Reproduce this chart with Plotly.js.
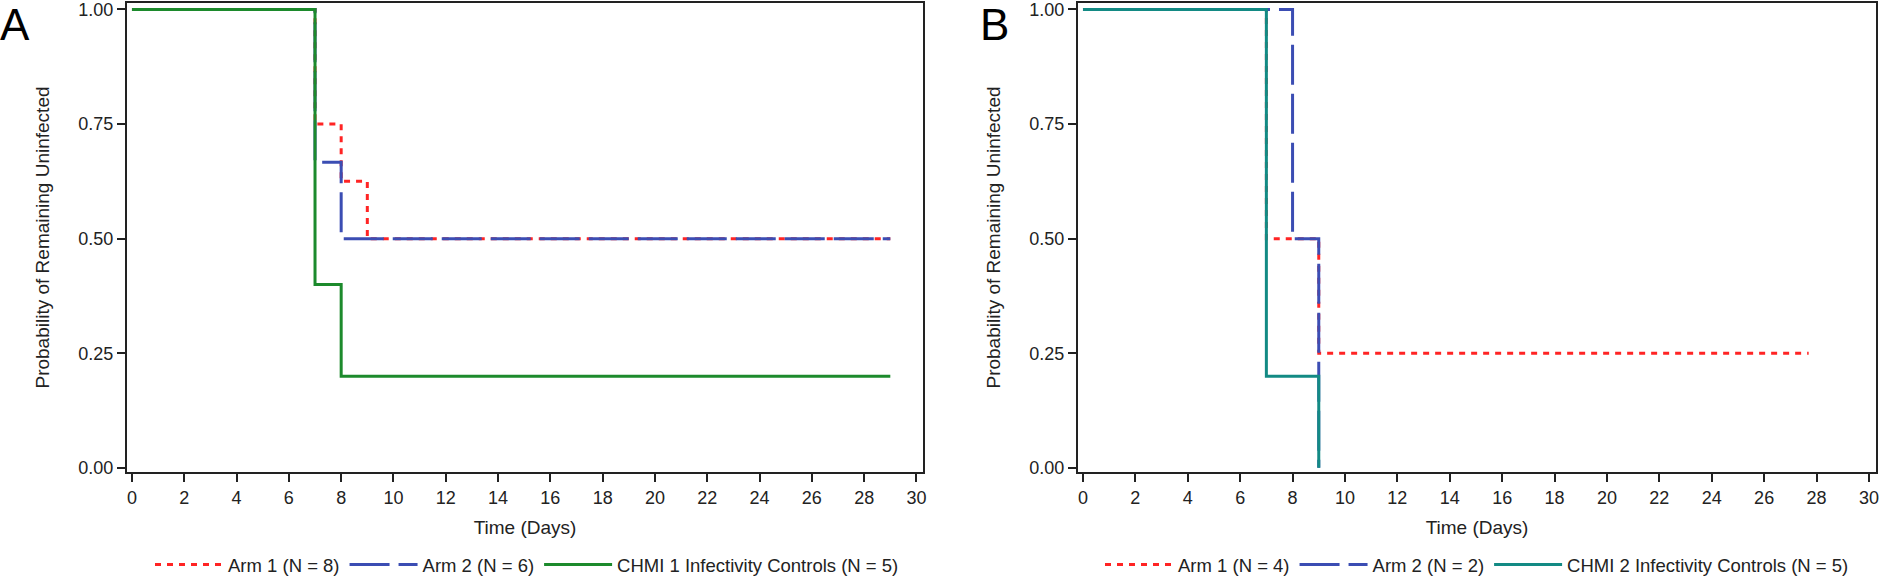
<!DOCTYPE html>
<html>
<head>
<meta charset="utf-8">
<script src="https://cdn.plot.ly/plotly-3.0.1.min.js"></script>
<style>html,body{margin:0;padding:0;background:#fff;}#chart{width:1880px;height:577px;}</style>
</head>
<body>
<div id="chart"></div>
<script>
// Panel A data (Kaplan-Meier step points)
const a_arm1_t = [0, 7, 8, 9, 29];
const a_arm1_s = [1, 0.75, 0.625, 0.5, 0.5];
const a_arm2_t = [0, 7, 8, 29];
const a_arm2_s = [1, 0.6667, 0.5, 0.5];
const a_ctrl_t = [0, 7, 8, 29];
const a_ctrl_s = [1, 0.4, 0.2, 0.2];
// Panel B data
const b_arm1_t = [0, 7, 9, 27.7];
const b_arm1_s = [1, 0.5, 0.25, 0.25];
const b_arm2_t = [0, 8, 9];
const b_arm2_s = [1, 0.5, 0];
const b_ctrl_t = [0, 7, 9];
const b_ctrl_s = [1, 0.2, 0];

const namesA = ['Arm 1 (N = 8)', 'Arm 2 (N = 6)', 'CHMI 1 Infectivity Controls (N = 5)'];
const namesB = ['Arm 1 (N = 4)', 'Arm 2 (N = 2)', 'CHMI 2 Infectivity Controls (N = 5)'];
const xTicks = [0,2,4,6,8,10,12,14,16,18,20,22,24,26,28,30];
const yTicks = [0, 0.25, 0.5, 0.75, 1];

const RED = '#ff2424', BLUE = '#3b4db3', GREEN = '#1c8a2c', TEAL = '#138a84';
const FONT = 'Liberation Sans, Arial, sans-serif';
const W = 1880, H = 577;

function tr(x, y, name, color, dash, xa, ya, leg) {
  return {x: x, y: y, name: name, type: 'scatter', mode: 'lines',
    line: {shape: 'hv', color: color, width: 3, dash: dash},
    xaxis: xa, yaxis: ya, legend: leg, hoverinfo: 'skip'};
}
const DOT = '6px,6px', LDASH = '40px,9px';
const data = [
  tr(a_arm1_t, a_arm1_s, namesA[0], RED, DOT, 'x', 'y', 'legend'),
  tr(a_arm2_t, a_arm2_s, namesA[1], BLUE, LDASH, 'x', 'y', 'legend'),
  tr(a_ctrl_t, a_ctrl_s, namesA[2], GREEN, 'solid', 'x', 'y', 'legend'),
  tr(b_arm1_t, b_arm1_s, namesB[0], RED, DOT, 'x2', 'y2', 'legend2'),
  tr(b_arm2_t, b_arm2_s, namesB[1], BLUE, LDASH, 'x2', 'y2', 'legend2'),
  tr(b_ctrl_t, b_ctrl_s, namesB[2], TEAL, 'solid', 'x2', 'y2', 'legend2')
];

const yDom = [(H - 472) / H, (H - 3) / H];
function xax(dom, range, anchor) {
  return {domain: dom, range: range, anchor: anchor, tickvals: xTicks,
    ticks: 'outside', ticklen: 8, tickwidth: 2, tickcolor: '#222',
    showline: true, linewidth: 2, linecolor: '#222', mirror: true,
    showgrid: false, zeroline: false, fixedrange: true, ticklabeloverflow: 'allow',
    tickfont: {family: FONT, size: 18, color: '#222'},
    title: {text: 'Time (Days)', font: {family: FONT, size: 19, color: '#222'}, standoff: 14}};
}
function yax(anchor) {
  return {domain: yDom, range: [-0.009, 1.014], anchor: anchor, tickvals: yTicks, tickformat: '.2f',
    ticks: 'outside', ticklen: 8, tickwidth: 2, tickcolor: '#222',
    showline: true, linewidth: 2, linecolor: '#222', mirror: true,
    showgrid: false, zeroline: false, fixedrange: true, ticklabeloverflow: 'allow',
    tickfont: {family: FONT, size: 18, color: '#222'},
    title: {text: 'Probability of Remaining Uninfected', font: {family: FONT, size: 19, color: '#222'}, standoff: 24}};
}
function leg(xc) {
  return {orientation: 'h', x: xc / W, xanchor: 'center', y: (H - 565) / H, yanchor: 'middle',
    itemwidth: 68, font: {family: FONT, size: 18.5, color: '#222'}, bgcolor: 'rgba(0,0,0,0)',
    itemclick: false, itemdoubleclick: false};
}
const layout = {
  width: W, height: H,
  margin: {l: 0, r: 0, t: 0, b: 0, autoexpand: false},
  paper_bgcolor: '#fff', plot_bgcolor: '#fff',
  font: {family: FONT, color: '#222'},
  showlegend: true,
  xaxis: xax([127 / W, 923 / W], [-0.19, 30.25], 'y'),
  yaxis: yax('x'),
  xaxis2: xax([1078 / W, 1876 / W], [-0.19, 30.27], 'y2'),
  yaxis2: yax('x2'),
  legend: leg(527),
  legend2: leg(1477),
  annotations: [
    {text: 'A', xref: 'paper', yref: 'paper', x: 0, xanchor: 'left', y: 1, yanchor: 'top',
     showarrow: false, font: {family: FONT, size: 44, color: '#000'}, xshift: -2, yshift: 2},
    {text: 'B', xref: 'paper', yref: 'paper', x: 980 / W, xanchor: 'left', y: 1, yanchor: 'top',
     showarrow: false, font: {family: FONT, size: 44, color: '#000'}, xshift: -2, yshift: 2}
  ]
};
Plotly.newPlot('chart', data, layout, {staticPlot: true, displayModeBar: false});
</script>
</body>
</html>
